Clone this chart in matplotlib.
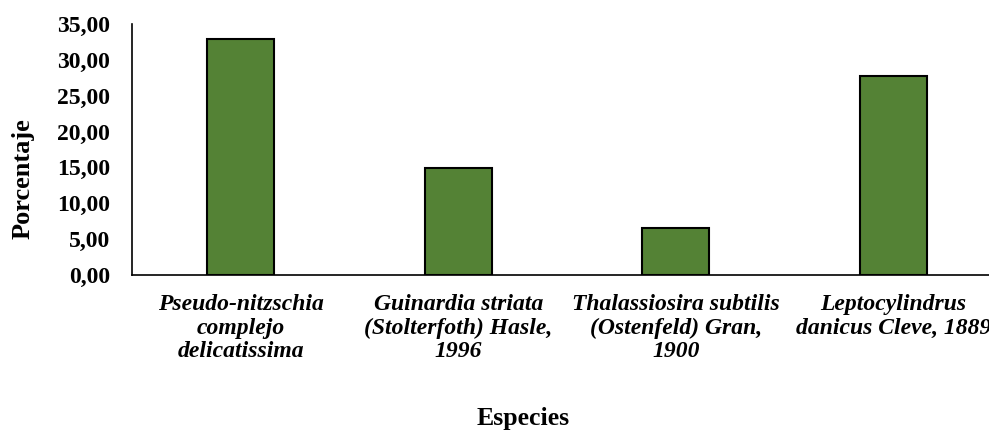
import numpy as np
import matplotlib.pyplot as plt
from matplotlib.ticker import FuncFormatter

# datos
especies = ['Pseudo-nitzschia\ncomplejo\ndelicatissima',
            'Guinardia striata\n(Stolterfoth) Hasle,\n1996',
            'Thalassiosira subtilis\n(Ostenfeld) Gran,\n1900',
            'Leptocylindrus\ndanicus Cleve, 1889']
porcentaje = [32.85, 14.95, 6.55, 27.75]
yticks = [0, 5, 10, 15, 20, 25, 30, 35]

plt.rcParams['font.family'] = 'Liberation Serif'

fig = plt.figure(figsize=(9.89, 4.32), dpi=100)
ax1 = fig.add_axes([132/989, 157/432, 870/989, 251/432])

x = np.arange(len(especies))
ax1.bar(x, porcentaje, width=0.31, color='#548235', edgecolor='black', linewidth=1.5)

ax1.set_xlim(-0.5, 3.5)
ax1.set_ylim(0, 35)
ax1.set_yticks(yticks)
ax1.yaxis.set_major_formatter(FuncFormatter(lambda v, p: ('%.2f' % v).replace('.', ',')))
ax1.set_xticks(x)
ax1.set_xticklabels(especies, fontsize=17, fontweight='bold', fontstyle='italic', linespacing=1.15)
ax1.tick_params(axis='y', length=0, pad=15.8, labelsize=17)
ax1.tick_params(axis='x', length=0, pad=14)
for lab in ax1.get_yticklabels():
    lab.set_fontweight('bold')

ax1.spines['top'].set_visible(False)
ax1.spines['right'].set_visible(False)
ax1.spines['left'].set_linewidth(1.2)
ax1.spines['bottom'].set_linewidth(1.2)

fig.text(23/989, 1 - 179/432, 'Porcentaje', rotation=90, ha='center', va='center',
         fontsize=19, fontweight='bold')
fig.text(523/989, 1 - 419/432, 'Especies', ha='center', va='center',
         fontsize=18.5, fontweight='bold')

plt.savefig('out.png', dpi=100)
